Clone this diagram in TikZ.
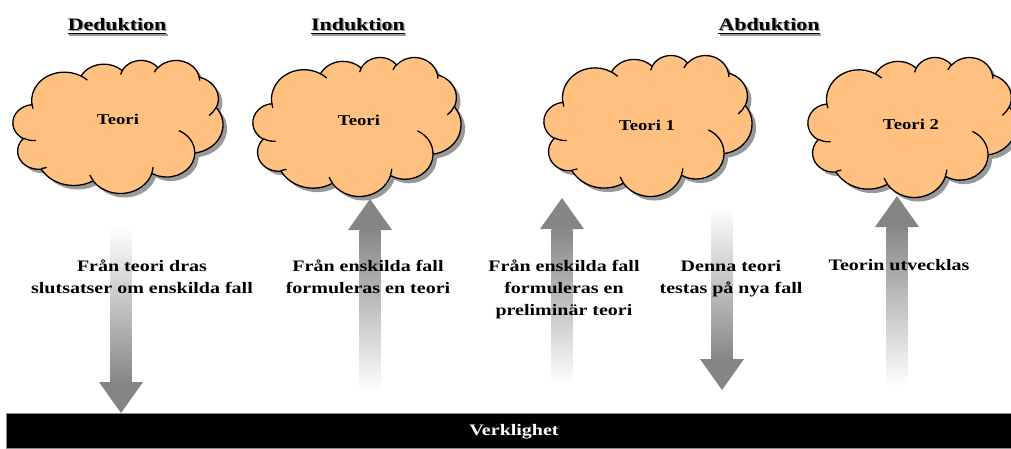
\documentclass[tikz,border=0pt]{standalone}
\usepackage{fontspec}
\newfontfamily\tf{Liberation Serif}[FakeStretch=1.25]
\usetikzlibrary{calc}
\definecolor{cloudfill}{HTML}{FFC080}

\newcommand\oarc[4]{arc[x radius=#1, y radius=#2, start angle={atan2((#1)*sin(#3),(#2)*cos(#3))}, delta angle={mod(atan2((#1)*sin((#3)+(#4)),(#2)*cos((#3)+(#4)))-atan2((#1)*sin(#3),(#2)*cos(#3))+720,360)}]}

\def\cloudpath{(39,143.7)
 \oarc{67.53}{91.90}{-190.4875}{123.7805}
 \oarc{53.33}{72.67}{-144.1024}{89.9452}
 \oarc{43.65}{59.45}{-145.8079}{99.7230}
 \oarc{48.57}{65.95}{-130.9861}{117.2417}
 \oarc{53.33}{72.73}{-78.7089}{109.0269}
 \oarc{67.75}{92.20}{-46.2673}{130.2690}
 \oarc{57.85}{78.67}{0.6250}{114.0333}
 \oarc{67.52}{92.15}{22.4516}{115.1726}
 \oarc{77.20}{105.43}{66.2426}{75.7110}
 \oarc{43.60}{59.18}{-274.9421}{146.7356}
 \oarc{43.45}{59.45}{-246.8285}{152.5189}
 -- cycle}

\def\cloudinner{(46.93,261.77) \oarc{43.45}{59.45}{86.7420}{26.4295}
 (69.28,348.99) \oarc{43.60}{59.18}{73.6105}{11.4475}
 (164.78,390.90) \oarc{67.52}{92.15}{137.6242}{14.0811}
 (288.27,347.51) \oarc{67.52}{92.15}{6.4533}{15.9984}
 (341.29,229.54) \oarc{57.85}{78.67}{-70.2924}{70.9174}
 (417.98,153.54) \oarc{53.33}{72.73}{30.3180}{27.7515}
 (383.24,54.26) \oarc{48.57}{65.95}{-13.7443}{14.8519}
 (290.78,39.52) \oarc{48.57}{65.95}{-149.1815}{18.1968}
 (221.41,47.20) \oarc{43.65}{59.45}{-163.4943}{19.0048}
 (140.00,51.92) \oarc{67.53}{91.90}{-66.7070}{12.3194}
 (41.27,157.89) \oarc{67.53}{91.90}{157.6544}{11.8582}}

% #1 name, #2 box x, #3 box y, #4 width, #5 height, #6 text x, #7 text y, #8 text
\newcommand\ocloud[8]{%
 \begin{scope}[shift={(#2+4,#3+4)},xscale=#4/432,yscale=#5/432]
  \fill[cloudshade] \cloudpath;
 \end{scope}
 \begin{scope}[shift={(#2,#3)},xscale=#4/432,yscale=#5/432]
  \filldraw[cloudbody] \cloudpath;
  \draw[cloudline] \cloudinner;
 \end{scope}
 \node[cloudtext] (#1) at (#6,#7) {#8};
}

% #1 tail, #2 tip, #3 shaft style
\newcommand\blockarrow[3]{%
 \coordinate (hb) at ($(#2)!31pt!(#1)$);
 \shade[#3] ($(#1)+(-10.5,0)$) rectangle ($(hb)+(10.5,0)$);
 \fill[headfill] ($(hb)+(-22,0)$) -- ($(hb)+(22,0)$) -- (#2) -- cycle;
}

% #1 name, #2 x, #3 y, #4 text
\newcommand\ttitle[4]{%
 \node[ttl, text=black!40] (#1s) at (#2+1.3,#3+1.3) {#4};
 \draw[black!40, line width=1.4] ($(#1s.base west)+(0,3.5)$) -- ($(#1s.base east)+(0,3.5)$);
 \node[ttl] (#1) at (#2,#3) {#4};
 \draw[line width=1.4] ($(#1.base west)+(0,3.5)$) -- ($(#1.base east)+(0,3.5)$);
}

\begin{document}
\begin{tikzpicture}[x=1pt,y=-1pt,
  cloudshade/.style={fill=black!40},
  cloudbody/.style={fill=cloudfill, draw=black, line width=1.3pt},
  cloudline/.style={draw=black, line width=1.3pt},
  cloudtext/.style={font=\tf\bfseries\fontsize{15}{18}\selectfont, inner sep=0},
  ttl/.style={font=\tf\bfseries\fontsize{17.5}{20}\selectfont, inner sep=0, anchor=base},
  lab/.style={font=\tf\bfseries\fontsize{16}{22}\selectfont, inner sep=0, anchor=north, align=center},
  shaftdown/.style={top color=white, bottom color=black!47},
  shaftup/.style={top color=black!47, bottom color=white},
  headfill/.style={fill=black!48},
]
\useasboundingbox (0,0) rectangle (1011,448);

% reality bar
\node[fill=black, draw=black!45, line width=0.8pt, minimum width=1006pt, minimum height=35pt, inner sep=0, anchor=north west] (bar) at (6,413) {};
\node[text=white, font=\tf\bfseries\fontsize{16}{18}\selectfont, inner sep=0] (verk) at (514,432) {Verklighet};

% titles
\ttitle{ded}{117}{30}{Deduktion}
\ttitle{ind}{358}{30}{Induktion}
\ttitle{abd}{769}{30}{Abduktion}

% clouds
\ocloud{c1}{13}{60}{210}{133}{118}{119}{Teori}
\ocloud{c2}{253}{57}{208}{139}{359}{120}{Teori}
\ocloud{c3}{544}{55}{208}{141}{647}{125}{Teori 1}
\ocloud{c4}{808}{57}{208}{140}{911}{124}{Teori 2}

% arrow end points
\coordinate (a1t) at (121,227);
\coordinate (a1h) at (bar.north -| a1t);
\coordinate (a2t) at (370,392);
\coordinate (a2h) at (370,199);
\coordinate (a3t) at (562,384);
\coordinate (a3h) at (562,198);
\coordinate (a4t) at (722,207);
\coordinate (a4h) at (722,390);
\coordinate (a5t) at (897,386);
\coordinate (a5h) at (897,196);

\blockarrow{a1t}{a1h}{shaftdown}
\blockarrow{a2t}{a2h}{shaftup}
\blockarrow{a3t}{a3h}{shaftup}
\blockarrow{a4t}{a4h}{shaftdown}
\blockarrow{a5t}{a5h}{shaftup}

% labels
\node[lab] (l1) at (142,260) {Från teori dras\\slutsatser om enskilda fall};
\node[lab] (l2) at (368,260) {Från enskilda fall\\formuleras en teori};
\node[lab] (l3) at (564,259.5) {Från enskilda fall\\formuleras en\\preliminär teori};
\node[lab] (l4) at (731,260) {Denna teori\\testas på nya fall};
\node[lab] (l5) at (899,259.5) {Teorin utvecklas};
\end{tikzpicture}
\end{document}
